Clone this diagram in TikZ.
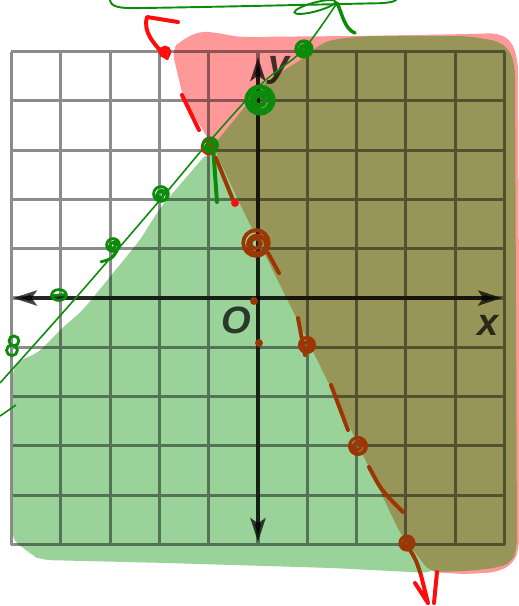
\documentclass[tikz,border=0pt]{standalone}
\usepackage{fontspec}
\usepackage{tikz}
\usetikzlibrary{arrows.meta}
\newfontfamily\labelfont{Liberation Sans}
\definecolor{shadepink}{RGB}{255,153,153}
\definecolor{shadegreen}{RGB}{153,211,153}
\definecolor{shadeolive}{RGB}{151,150,88}
\definecolor{inkred}{RGB}{255,12,12}
\definecolor{inkbrown}{RGB}{155,55,5}
\definecolor{inkgreen}{RGB}{10,140,10}
\newcommand{\scribble}[3]{\draw[#3] #1 circle[radius=#2] ++(0.02,-0.03) circle[radius=0.7*#2] ++(-0.03,0.02) circle[radius=0.4*#2];}

\begin{document}
\begin{tikzpicture}[
  gridline/.style={black, opacity=0.45, line width=1.8pt},
  axis/.style={black, opacity=0.72, line width=2.8pt,
               {Stealth[length=4.8mm,width=3mm,inset=1mm]}-{Stealth[length=4.8mm,width=3mm,inset=1mm]}},
  axislabel/.style={text=black, text opacity=0.72, inner sep=0pt,
                    font=\labelfont\bfseries\itshape\fontsize{22}{22}\selectfont},
  pen/.style={line width=2.3pt, line cap=round, line join=round},
  looppen/.style={line width=1.6pt},
  thinpen/.style={inkgreen, line width=0.9pt},
  inkdot/.style={circle, inner sep=0pt, minimum size=1.6mm}]
  \useasboundingbox (-5.233,-6.247) rectangle (5.294,6.045);
  \clip (-5.233,-6.247) rectangle (5.294,6.045);
  \fill[white] (-5.233,-6.247) rectangle (5.294,6.045);

  \fill[shadepink, rounded corners=5pt] (-1.744,5.030) -- (-1.6,5.2) -- (-1.176,5.416) -- (-0.8,5.375)
    -- (-0.4,5.294) -- (2.0,5.315) -- (4.3,5.355) -- (4.868,5.375) -- (5.152,5.213) -- (5.274,4.787)
    -- (5.294,0) -- (5.294,-5.071) -- (5.193,-5.375) -- (4.868,-5.558) -- (4.2,-5.6) -- (3.489,-5.558)
    -- (2.880,-4.767) -- (1.602,-2.069) -- (-0.406,1.988) -- (-0.974,3.164) -- (-1.521,4.077) -- cycle;
  \fill[shadegreen, rounded corners=5pt] (-1.014,2.962) -- (-1.988,1.826) -- (-2.394,1.176) -- (-3.55,-0.243)
    -- (-4.016,-0.649) -- (-4.462,-1.116) -- (-4.828,-1.258) -- (-4.97,-1.4) -- (-4.97,-4.97)
    -- (-4.726,-5.051) -- (-4.624,-5.213) -- (-4.361,-5.314) -- (-1.846,-5.375) -- (1.521,-5.477)
    -- (3.489,-5.578) -- (4.2,-5.1) -- (2.5,1.0) -- (-0.5,2.9) -- cycle;
  \fill[shadeolive, rounded corners=5pt] (-0.913,3.083) -- (0.142,4.381) -- (0.994,4.909) -- (1.258,5.152)
    -- (1.562,5.254) -- (2.211,5.314) -- (4.239,5.314) -- (4.868,5.213) -- (5.112,5.030) -- (5.213,4.686)
    -- (5.233,-0.041) -- (5.254,-5.051) -- (5.152,-5.375) -- (4.807,-5.477) -- (4.239,-5.538)
    -- (3.489,-5.558) -- (2.880,-4.767) -- (1.602,-2.069) -- (-0.406,1.988) -- cycle;

  \draw[gridline] (-5,-5) grid (5,5);
  \draw[axis] (-4.97,0) -- (4.95,0);
  \draw[axis] (0,-4.95) -- (0,4.89);
  \node[axislabel] (ylab) at (0.43,4.62) {y};
  \node[axislabel] (olab) at (-0.43,-0.45) {O};
  \node[axislabel] (xlab) at (4.66,-0.55) {x};

  \draw[thinpen] plot[smooth, tension=0.5] coordinates {(-5.233,-1.724) (-3.68,0.02) (-1.988,1.988)
    (-1.014,3.144) (0.08,4.35) (0.913,5.03) (1.602,5.984)};
  \draw[thinpen] (-5.233,-2.394) -- (-4.909,-2.17);
  \draw[inkgreen, line width=1.1pt] (-3.002,6.045) .. controls (-2.98,5.9) and (-2.8,5.88) .. (-2.5,5.88)
    .. controls (-1,5.9) and (1.5,5.96) .. (2.475,5.98) .. controls (2.7,5.99) and (2.8,6.02) .. (2.819,6.07);
  \draw[inkgreen, line width=1.1pt] (1.156,5.903) circle[x radius=0.43, y radius=0.09, rotate=15];
  \draw[inkgreen, pen, line width=2pt] (1.602,5.984) .. controls (1.7,5.8) and (1.75,5.45) .. (1.968,5.375);
  \draw[inkgreen, pen] (-0.913,3.103) -- (-0.832,1.947);

  \draw[inkred, pen] (-1.846,4.868) .. controls (-2.15,5.2) and (-2.33,5.4) .. (-2.252,5.700) -- (-1.623,5.598);
  \draw[inkred, pen] (-1.542,4.118) -- (-1.197,3.408);
  \draw[inkbrown, pen] (-0.852,2.84) -- (-0.507,1.988);
  \draw[inkbrown, pen] (0.203,0.913) -- (0.426,0.507);
  \draw[inkbrown, pen] (0.811,-0.406) -- (0.953,-1.156);
  \draw[inkbrown, pen] (1.481,-1.765) -- (1.826,-2.677);
  \draw[inkbrown, pen] (2.252,-3.428) .. controls (2.5,-3.9) .. (2.941,-4.341);
  \draw[inkbrown, pen] (3.083,-5.112) .. controls (3.2,-5.3) .. (3.306,-5.619);
  \draw[inkred, pen] (3.306,-5.619) -- (3.448,-6.187) (3.185,-5.781) -- (3.448,-6.187)
    (3.631,-5.558) -- (3.570,-6.187);
  \node[inkdot, fill=inkred] (dota) at (-0.467,1.927) {};
  \node[inkdot, fill=inkbrown] (dotb) at (-0.081,-0.061) {};
  \node[inkdot, fill=inkbrown] (dotc) at (0.02,-0.913) {};

  \scribble{(-1.886,4.99)}{0.1}{inkred, looppen}
  \scribble{(-0.994,3.063)}{0.14}{inkred, looppen}
  \scribble{(-0.04,1.116)}{0.26}{inkbrown, line width=2.2pt}
  \scribble{(0.994,-0.953)}{0.15}{inkbrown, line width=1.9pt}
  \scribble{(2.028,-3.002)}{0.17}{inkbrown, line width=1.9pt}
  \scribble{(3.022,-4.97)}{0.14}{inkbrown, line width=1.9pt}

  \scribble{(0.933,5.051)}{0.16}{inkgreen, line width=2pt}
  \scribble{(0.04,4.016)}{0.27}{inkgreen, line width=2.6pt}
  \scribble{(-0.97,3.1)}{0.15}{inkgreen, looppen}
  \scribble{(-1.968,2.110)}{0.15}{inkgreen, looppen}
  \scribble{(-2.94,1.075)}{0.13}{inkgreen, looppen}
  \draw[inkgreen, looppen] (-2.85,0.97) .. controls (-2.95,0.8) .. (-3.2,0.73);
  \draw[inkgreen, looppen] (-4.037,0.061) circle[x radius=0.15, y radius=0.11] (-4.18,0.05) -- (-3.9,0.07);
  \draw[inkgreen, looppen] (-4.95,-0.87) circle[radius=0.1] (-4.99,-1.06) circle[radius=0.11];
\end{tikzpicture}
\end{document}
